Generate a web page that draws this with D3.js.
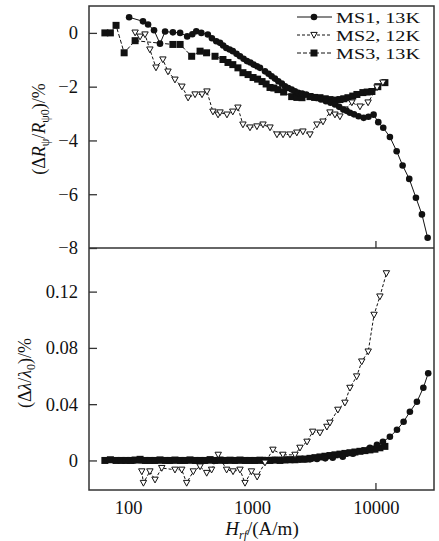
<!DOCTYPE html>
<html><head><meta charset="utf-8">
<script src="https://cdn.jsdelivr.net/npm/d3@7"></script>
<style>
body{margin:0;background:#fff;}
svg text{font-family:"Liberation Serif","Times New Roman",serif;fill:#111;}
</style></head>
<body><svg id="c" width="439" height="541"></svg>
<script>
// ---- data (H in A/m) ----
const seriesNames = ["MS1, 13K","MS2, 12K","MS3, 13K"];
const xTickValues = [100,1000,10000];
const topTickValues = [0,-2,-4,-6,-8];
const botTickValues = [0,0.04,0.08,0.12];

// top panel: ΔR/R (%)
const ms1TopH = [102,132,145,162,181,199,230,263,300,330,355,390,440,475,515,552,585,620,660,700,750,800,855,910,970,1030,1095,1160,1273,1360,1440,1530,1630,1740,1845,1960,2090,2220,2360,2540,2740,3000,3300,3600,3950,4300,4670,5050,5450,5800,6170,6650,7230,7960,8700,9570,10440,11450,12960,14690,16410,18560,21020,23490,26120];
const ms1TopV = [0.58,0.43,0.31,0.10,-0.40,0.05,0.02,0.0,-0.13,-0.05,0.06,0.0,-0.06,-0.2,-0.31,-0.37,-0.47,-0.56,-0.62,-0.68,-0.78,-0.87,-0.96,-1.05,-1.1,-1.18,-1.24,-1.30,-1.43,-1.52,-1.61,-1.70,-1.80,-1.88,-1.99,-2.05,-2.11,-2.17,-2.23,-2.26,-2.29,-2.36,-2.42,-2.48,-2.54,-2.60,-2.66,-2.75,-2.85,-2.90,-2.97,-3.03,-3.10,-3.16,-3.12,-3.04,-3.32,-3.53,-3.87,-4.40,-4.93,-5.43,-6.13,-6.75,-7.62];

const ms2TopH = [114,125,137,150,168,191,210,239,272,305,347,395,433,484,532,552,628,700,770,845,963,1096,1227,1397,1590,1780,2025,2300,2575,2935,3340,3740,4255,4670,5120,5620,6390,7430,8640,10200,11380];
const ms2TopV = [0.01,-0.14,-0.06,-0.62,-1.29,-0.99,-1.44,-1.74,-2.0,-2.41,-2.29,-2.29,-2.18,-2.93,-3.04,-2.96,-3.04,-2.93,-2.78,-3.41,-3.52,-3.48,-3.41,-3.52,-3.78,-3.78,-3.78,-3.71,-3.67,-3.78,-3.41,-3.30,-2.96,-3.04,-3.11,-2.85,-2.59,-2.74,-2.59,-2.03,-1.85];

const ms3TopH = [65,72,80,93,114,230,263,326,381,430,503,583,640,700,770,845,930,1020,1110,1205,1300,1397,1500,1620,1800,2090,2300,2530,2935,3200,3534,3900,4255,4700,5123,5500,5940,6500,7020,7840,8500,9280,10350,11810];
const ms3TopV = [0.0,0.0,0.28,-0.74,-0.29,-0.43,-0.43,-0.87,-0.68,-0.74,-0.87,-0.99,-1.1,-1.18,-1.3,-1.48,-1.55,-1.66,-1.72,-1.81,-1.9,-2.03,-2.05,-2.11,-2.2,-2.37,-2.4,-2.41,-2.37,-2.4,-2.41,-2.45,-2.48,-2.5,-2.48,-2.45,-2.41,-2.35,-2.29,-2.22,-2.2,-2.18,-2.0,-1.85];

// bottom panel: Δλ/λ0 (%)
const ms1BotH = [102,112,125,137,150,165,181,199,218,239,263,288,316,347,381,418,459,503,552,606,665,729,800,878,963,1057,1160,1273,1397,1532,1680,1845,2025,2222,2438,2675,2935,3344,3900,4480,5400,6530,7840,8940,10190,11380,12960,14780,16710,18790,21410,24120,26400];
const ms1BotV = [0,0,0,0,0,0,0,0,0,0,0,0,0,0,0,0,0,0,0,0,0,0,0,0,0,0,0,0.0003,0.0002,0.0003,0.0004,0.0004,0.0005,0.0005,0.0006,0.0007,0.0008,0.001,0.0015,0.002,0.0026,0.0048,0.0069,0.009,0.0112,0.0133,0.0168,0.0218,0.0275,0.0346,0.0417,0.0517,0.062];

const ms2BotH = [129,133,150,165,187,239,271,297,336,381,431,472,534,624,703,800,878,990,1100,1273,1475,1775,2222,2438,2780,3090,3534,4020,4255,4930,5620,6170,6990,7680,8660,9650,10760,12140];
const ms2BotV = [-0.0078,-0.016,-0.0078,-0.0137,-0.0054,-0.0066,-0.0066,-0.016,-0.0078,-0.0043,-0.0089,-0.0066,0.004,-0.0066,-0.0078,-0.0066,-0.016,-0.0078,-0.0116,-0.0016,0.0076,0.004,0.004,0.009,0.0133,0.0204,0.0197,0.0239,0.0268,0.036,0.041,0.0516,0.0597,0.0703,0.0774,0.1035,0.1165,0.133];

const ms3BotH = [65,72,80,88,96,105,114,125,137,150,165,181,199,218,239,263,288,316,347,381,418,459,503,552,606,665,729,800,878,963,1057,1160,1273,1397,1532,1682,1845,2025,2222,2438,2675,2935,3221,3534,3878,4255,4669,5123,5621,6168,6768,7426,8148,8940,9810,10764,11811];
const ms3BotV = [0,0.0005,0,0,0,0,0.0003,0.0008,0,0,0,0.0004,0,0,0.0003,0,0,0.0004,0,0,0,0.0006,0,0.0003,0,0.0002,0,0.0003,0,0,0,0.0002,0,0,0.0003,0,0.0004,0.0005,0.0005,0.001,0.001,0.0015,0.002,0.0025,0.003,0.0035,0.004,0.0045,0.005,0.0055,0.006,0.0065,0.007,0.0075,0.008,0.009,0.01];

// ---- drawing ----
const svg = d3.select("#c");
const L = 89, R = 434, T = 6, MID = 248, B = 490;
const x = d3.scaleLog().domain([48.4, 29400]).range([L, R]);
const yTop = d3.scaleLinear().domain([-8, 1]).range([MID, T]);
const yBot = d3.scaleLinear().domain([-0.021, 0.151]).range([B, MID]);

const zip = (h, v) => h.map((d, i) => [d, v[i]]);

function drawSeries(data, y, kind) {
  const line = d3.line().x(d => x(d[0])).y(d => y(d[1]));
  const p = svg.append("path").datum(data).attr("d", line)
    .attr("fill", "none").attr("stroke", "#111").attr("stroke-width", 1);
  if (kind === "tri") p.attr("stroke-dasharray", "3,2");
  if (kind === "sq") p.attr("stroke-dasharray", "4,2");
  drawMarkers(svg, data.map(d => [x(d[0]), y(d[1])]), kind);
}
function drawMarkers(g, pts, kind) {
  if (kind === "circ") {
    g.append("g").selectAll("circle").data(pts).join("circle")
      .attr("cx", d => d[0]).attr("cy", d => d[1]).attr("r", 3.3).attr("fill", "#111");
  } else if (kind === "sq") {
    g.append("g").selectAll("rect").data(pts).join("rect")
      .attr("x", d => d[0] - 3.5).attr("y", d => d[1] - 3.5).attr("width", 7).attr("height", 7).attr("fill", "#111");
  } else {
    g.append("g").selectAll("path").data(pts).join("path")
      .attr("d", d => `M${d[0]-3.2},${d[1]-2.6}L${d[0]+3.2},${d[1]-2.6}L${d[0]},${d[1]+3.2}Z`)
      .attr("fill", "#fff").attr("stroke", "#111").attr("stroke-width", 1);
  }
}

// series
drawSeries(zip(ms3TopH, ms3TopV), yTop, "sq");
drawSeries(zip(ms2TopH, ms2TopV), yTop, "tri");
drawSeries(zip(ms1TopH, ms1TopV), yTop, "circ");
drawSeries(zip(ms3BotH, ms3BotV), yBot, "sq");
drawSeries(zip(ms1BotH, ms1BotV), yBot, "circ");
drawSeries(zip(ms2BotH, ms2BotV), yBot, "tri");

// frames
const ax = svg.append("g").attr("fill", "none").attr("stroke", "#333").attr("stroke-width", 1.5);
ax.append("rect").attr("x", L).attr("y", T).attr("width", R - L).attr("height", B - T);
ax.append("line").attr("x1", L).attr("x2", R).attr("y1", MID).attr("y2", MID);

// y axes
const fs = 18.5;
const gTop = svg.append("g").attr("transform", `translate(${L},0)`)
  .call(d3.axisLeft(yTop).tickValues(topTickValues).tickSize(-8).tickPadding(11).tickFormat(d3.format("d")));
const gBot = svg.append("g").attr("transform", `translate(${L},0)`)
  .call(d3.axisLeft(yBot).tickValues(botTickValues).tickSize(-8).tickPadding(11).tickFormat(d => d === 0 ? "0" : d3.format(".2f")(d)));
[gTop, gBot].forEach(g => {
  g.select(".domain").remove();
  g.selectAll("line").attr("stroke", "#333").attr("stroke-width", 1.3);
  g.selectAll("text").attr("font-size", fs).attr("font-family", "Liberation Serif").attr("fill", "#111");
});

// x axis
const gX = svg.append("g").attr("transform", `translate(0,${B})`)
  .call(d3.axisBottom(x).tickValues(xTickValues).tickSize(0).tickPadding(11).tickFormat(d3.format("d")));
gX.select(".domain").remove();
gX.selectAll("text").attr("font-size", fs).attr("font-family", "Liberation Serif").attr("fill", "#111");
// inward tick at 10000 (both panels)
[B, MID].forEach(yy => svg.append("line").attr("x1", x(10000)).attr("x2", x(10000))
  .attr("y1", yy).attr("y2", yy - 7).attr("stroke", "#333").attr("stroke-width", 1.3));

// axis titles
const t1 = svg.append("text").attr("transform", "translate(45,129) rotate(-90)")
  .attr("text-anchor", "middle").attr("font-size", 18);
t1.append("tspan").text("(Δ");
t1.append("tspan").attr("font-style", "italic").text("R");
t1.append("tspan").attr("font-size", 12).attr("dy", 4).text("ψ");
t1.append("tspan").attr("dy", -4).text("/");
t1.append("tspan").attr("font-style", "italic").text("R");
t1.append("tspan").attr("font-size", 12).attr("dy", 4).text("ψ0");
t1.append("tspan").attr("dy", -4).text(")/%");

const t2 = svg.append("text").attr("transform", "translate(31,373) rotate(-90)")
  .attr("text-anchor", "middle").attr("font-size", 18);
t2.append("tspan").text("(Δ");
t2.append("tspan").attr("font-style", "italic").text("λ");
t2.append("tspan").text("/");
t2.append("tspan").attr("font-style", "italic").text("λ");
t2.append("tspan").attr("font-size", 12).attr("dy", 4).text("0");
t2.append("tspan").attr("dy", -4).text(")/%");

const t3 = svg.append("text").attr("x", 262).attr("y", 535).attr("text-anchor", "middle").attr("font-size", 19);
t3.append("tspan").attr("font-style", "italic").text("H");
t3.append("tspan").attr("font-size", 12).attr("dy", 4).attr("font-style", "italic").text("rf");
t3.append("tspan").attr("dy", -4).text("/(A/m)");

// legend
const kinds = ["circ", "tri", "sq"];
const legY = [17, 35, 53];
seriesNames.forEach((name, i) => {
  const g = svg.append("g");
  const ln = g.append("line").attr("x1", 297).attr("x2", 332).attr("y1", legY[i]).attr("y2", legY[i])
    .attr("stroke", "#111").attr("stroke-width", 1);
  if (kinds[i] === "tri") ln.attr("stroke-dasharray", "3,2");
  if (kinds[i] === "sq") ln.attr("stroke-dasharray", "4,2");
  drawMarkers(g, [[314, legY[i]]], kinds[i]);
  g.append("text").attr("x", 336).attr("y", legY[i] + 5.5).attr("font-size", 15.5)
    .attr("textLength", 84).attr("lengthAdjust", "spacingAndGlyphs").text(name);
});
</script></body></html>
